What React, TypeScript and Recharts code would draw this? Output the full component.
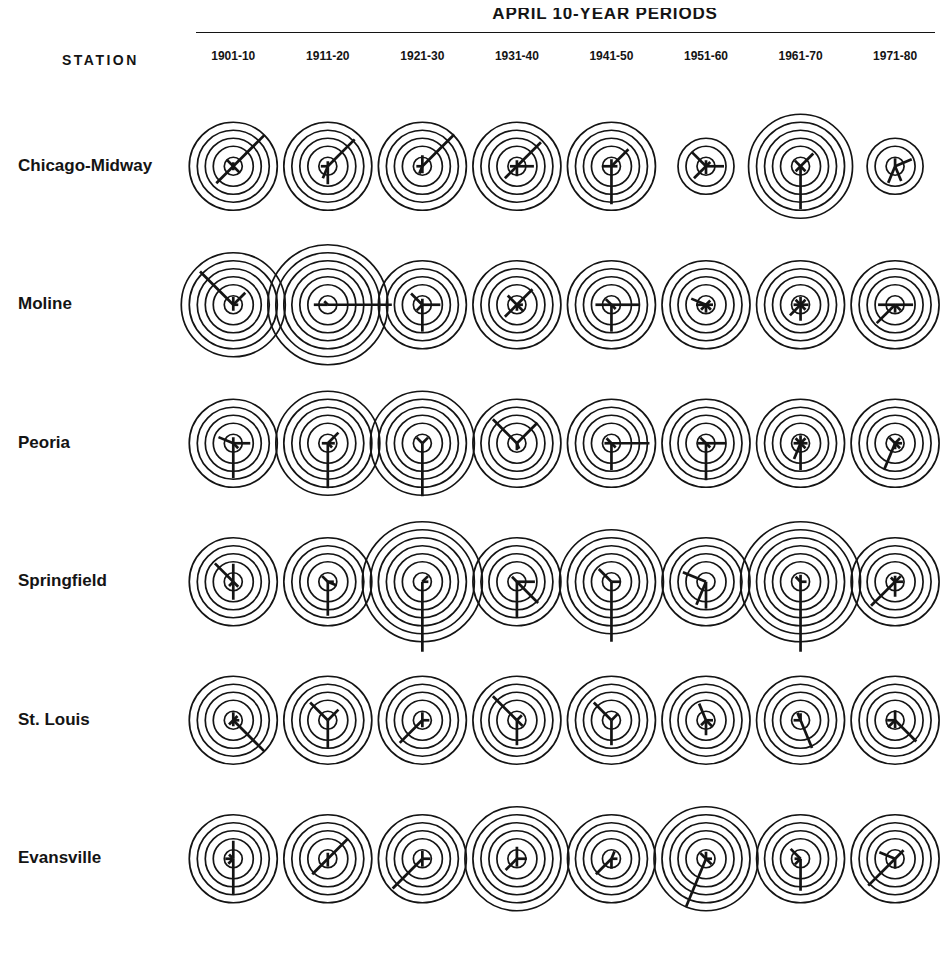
import React from "react";
import { ScatterChart, Scatter, XAxis, YAxis } from "recharts";

// ---------- data ----------
const periods = ["1901-10", "1911-20", "1921-30", "1931-40", "1941-50", "1951-60", "1961-70", "1971-80"];
const stations = ["Chicago-Midway", "Moline", "Peoria", "Springfield", "St. Louis", "Evansville"];
const directions = ["N", "NNE", "NE", "ENE", "E", "ESE", "SE", "SSE", "S", "SSW", "SW", "WSW", "W", "WNW", "NW", "NNW"];

// number of frequency rings around the calm circle, per period
const chicagoRings = [4, 4, 4, 4, 4, 2, 5, 2];
const molineRings = [5, 6, 4, 4, 4, 4, 4, 4];
const peoriaRings = [4, 5, 5, 4, 4, 4, 4, 4];
const springfieldRings = [4, 4, 6, 4, 5, 4, 6, 4];
const stLouisRings = [4, 4, 4, 4, 4, 4, 4, 4];
const evansvilleRings = [4, 4, 4, 5, 4, 5, 4, 4];

// spoke values (percent frequency) by direction, per period
const chicagoSpokes = [
  { NE: 22, SW: 12, NW: 4.5, SE: 4.5, N: 2, S: 2 },
  { NE: 19, S: 9, SSW: 6.5, W: 3.5, N: 2.5 },
  { NE: 22.5, N: 5.5, SSW: 4, S: 3.5, W: 3 },
  { NE: 17, E: 8.5, SW: 8.5, S: 5, W: 3.5, N: 3 },
  { S: 19, NE: 12, W: 4.5, N: 3.5, E: 3 },
  { E: 9, NW: 10, SW: 8.5, S: 4, N: 3, NE: 3 },
  { S: 21.5, NE: 9, NW: 4, SE: 3.5, SW: 3.5 },
  { ENE: 9, SSW: 9, SSE: 8, N: 4 },
];
const molineSpokes = [
  { NW: 23.5, NE: 8.5, N: 4, S: 3, E: 2.5 },
  { E: 32, W: 7, NW: 2.5 },
  { E: 9, S: 13.5, NW: 8, SW: 4, N: 3 },
  { NE: 11, SW: 8.5, NW: 6.5, SE: 4.5, E: 3, S: 3 },
  { E: 14, W: 8, S: 13.5, NW: 4, SE: 3 },
  { WNW: 8, W: 5, S: 4, SE: 3.5, SW: 3.5, E: 3.5, NE: 3 },
  { S: 8, SW: 7.5, N: 4, NE: 3.5, E: 4, SE: 3.5, W: 3.5, NW: 3.5 },
  { E: 9, W: 8.5, SW: 13, SE: 4, S: 4 },
];
const peoriaSpokes = [
  { S: 17.5, E: 8.5, WNW: 8, SE: 3.5, N: 3 },
  { S: 22.5, NE: 7.5, E: 3.5, SE: 3, W: 3 },
  { S: 26.5, NW: 4, NE: 4 },
  { NW: 17, NE: 14.5, S: 3.5, SSE: 3 },
  { E: 19, S: 13.5, W: 3.5, NW: 3.5, SE: 3 },
  { S: 18.5, E: 10, NW: 4, W: 4, SE: 3 },
  { S: 13.5, SSW: 8.5, N: 4, NE: 3.5, E: 3.5, W: 3.5, NW: 3.5, SE: 3.5 },
  { SSW: 14, NW: 4, NE: 3.5, E: 3.5, SE: 3.5, S: 3 },
];
const springfieldSpokes = [
  { NW: 13, N: 9, S: 9, SE: 3.5, SW: 3 },
  { S: 17, NW: 4, ESE: 4.5, E: 3 },
  { S: 35, NE: 4, E: 3 },
  { S: 18, SE: 15, E: 9, NW: 3.5 },
  { S: 30, NW: 9, E: 4.5 },
  { WNW: 12.5, SSW: 12.5, S: 13.5 },
  { S: 35, N: 3.5, NW: 3.5, E: 3 },
  { SW: 17, S: 7.5, NE: 4, E: 4, N: 3, NW: 3 },
];
const stLouisSpokes = [
  { SE: 22, N: 4, NE: 3, E: 3, S: 3, SW: 3 },
  { S: 14, NW: 12.5, NE: 7.5 },
  { SW: 16, N: 4, E: 3.5, S: 3.5 },
  { NW: 17, S: 12.5, SE: 4, NE: 3.5 },
  { NW: 12.5, NE: 4.5, S: 12.5 },
  { NNW: 9, S: 7.5, SE: 4.5, E: 3.5, SW: 3.5 },
  { SSE: 15, NNW: 4, W: 3.5, N: 3.5 },
  { SE: 15, SW: 5, N: 5, W: 4, S: 4 },
];
const evansvilleSpokes = [
  { N: 9, S: 18, W: 4, SW: 3.5, NW: 3 },
  { NE: 14, SW: 11, S: 4, N: 3 },
  { SW: 21, N: 4, E: 4, S: 4 },
  { SW: 8, N: 6, E: 5, S: 4 },
  { SW: 11, NNE: 4, S: 5, E: 3 },
  { SSW: 26, NW: 4, N: 3.5, SE: 4, E: 3 },
  { NW: 7, S: 16, SW: 4, W: 3 },
  { SW: 19, WNW: 8.5, NE: 6, S: 5 },
];

const ringsByStation = [chicagoRings, molineRings, peoriaRings, springfieldRings, stLouisRings, evansvilleRings];
const spokesByStation = [chicagoSpokes, molineSpokes, peoriaSpokes, springfieldSpokes, stLouisSpokes, evansvilleSpokes];

const data = stations.flatMap((station, r) =>
  periods.map((period, c) => ({
    x: c,
    y: r,
    station,
    period,
    rings: ringsByStation[r][c],
    spokes: spokesByStation[r][c] as Record<string, number>,
  }))
);

// ---------- drawing ----------
const W = 933;
const H = 958;
const INK = "#141414";
const PX_PER_PCT = 2;
const CALM_R = 9;
const RING_BASE = 12;
const RING_STEP = 8;
const FONT = "'Liberation Sans', Arial, Helvetica, sans-serif";

function Rose(props: any) {
  const { cx, cy, payload } = props;
  if (cx == null || cy == null || !payload) return null;
  const circles = [
    <circle key="calm" cx={cx} cy={cy} r={CALM_R} fill="none" stroke={INK} strokeWidth={1.7} />,
  ];
  for (let k = 1; k <= payload.rings; k++) {
    circles.push(
      <circle key={"r" + k} cx={cx} cy={cy} r={RING_BASE + RING_STEP * k} fill="none" stroke={INK} strokeWidth={1.7} />
    );
  }
  const spokes = Object.entries(payload.spokes as Record<string, number>).map(([dir, v]) => {
    const a = (directions.indexOf(dir) * Math.PI) / 8;
    const len = v * PX_PER_PCT;
    return (
      <line
        key={dir}
        x1={cx}
        y1={cy}
        x2={cx + Math.sin(a) * len}
        y2={cy - Math.cos(a) * len}
        stroke={INK}
        strokeWidth={2.7}
      />
    );
  });
  return (
    <g>
      {circles}
      {spokes}
    </g>
  );
}

function PeriodTick(props: any) {
  const { x, payload } = props;
  return (
    <text x={x} y={49} textAnchor="middle" dominantBaseline="middle" fontFamily={FONT} fontWeight="bold" fontSize={12} fill={INK}>
      {periods[payload.value]}
    </text>
  );
}

function StationTick(props: any) {
  const { y, payload } = props;
  return (
    <text x={10} y={y} textAnchor="start" dominantBaseline="middle" fontFamily={FONT} fontWeight="bold" fontSize={17} fill={INK}>
      {stations[payload.value]}
    </text>
  );
}

export default function App() {
  return (
    <div style={{ position: "relative", width: W, height: H, background: "#fff", fontFamily: FONT, color: INK }}>
      <ScatterChart width={W} height={H} margin={{ top: 59, right: 27, bottom: 38, left: 8 }}>
        <XAxis
          type="number"
          dataKey="x"
          domain={[-0.5, 7.2]}
          ticks={[0, 1, 2, 3, 4, 5, 6, 7]}
          orientation="top"
          height={30}
          axisLine={false}
          tickLine={false}
          interval={0}
          tick={<PeriodTick />}
        />
        <YAxis
          type="number"
          dataKey="y"
          domain={[-0.5, 5.5]}
          reversed
          ticks={[0, 1, 2, 3, 4, 5]}
          width={170}
          axisLine={false}
          tickLine={false}
          interval={0}
          tick={<StationTick />}
        />
        <Scatter data={data} shape={<Rose />} isAnimationActive={false} />
      </ScatterChart>
      <div
        style={{
          position: "absolute",
          left: 397,
          width: 400,
          top: -5,
          textAlign: "center",
          fontSize: 17,
          fontWeight: "bold",
          letterSpacing: 0.8,
          lineHeight: "22px",
        }}
      >
        APRIL 10-YEAR PERIODS
      </div>
      <div style={{ position: "absolute", left: 188, width: 739, top: 24, height: 0, borderTop: `1.6px solid ${INK}` }} />
      <div
        style={{
          position: "absolute",
          left: 54,
          top: 43,
          fontSize: 14,
          fontWeight: "bold",
          letterSpacing: 2.5,
          lineHeight: "18px",
        }}
      >
        STATION
      </div>
    </div>
  );
}
